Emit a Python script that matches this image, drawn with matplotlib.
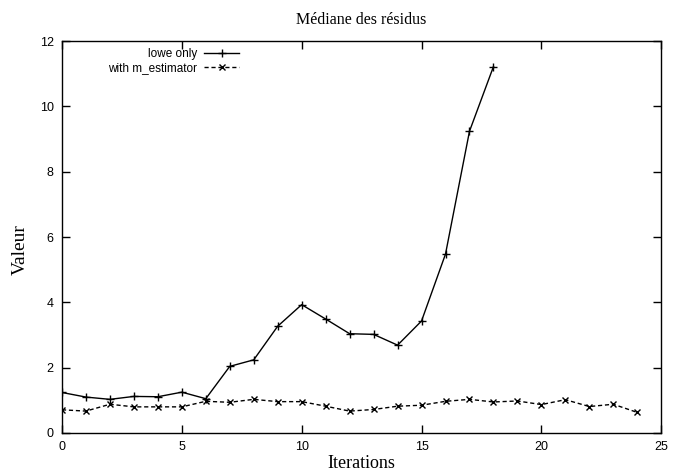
import matplotlib.pyplot as plt

# Données
iter_lowe = list(range(19))
lowe_only = [1.24, 1.10, 1.03, 1.12, 1.11, 1.25, 1.05, 2.04, 2.24, 3.27, 3.93,
             3.49, 3.04, 3.02, 2.69, 3.43, 5.48, 9.24, 11.22]

iter_m = list(range(25))
with_m_estimator = [0.71, 0.67, 0.88, 0.80, 0.80, 0.80, 0.97, 0.94, 1.03, 0.96,
                    0.96, 0.82, 0.67, 0.72, 0.82, 0.85, 0.97, 1.03, 0.95, 0.98,
                    0.87, 1.02, 0.81, 0.88, 0.63]

x_ticks = [0, 5, 10, 15, 20, 25]
y_ticks = [0, 2, 4, 6, 8, 10, 12]

sans = ["Liberation Sans", "DejaVu Sans"]
serif = ["Liberation Serif", "DejaVu Serif"]

fig = plt.figure(figsize=(6.81, 4.73), dpi=100)
ax = fig.add_axes([0.091, 0.0846, 0.880, 0.8284])

ax.plot(iter_lowe, lowe_only, color="black", lw=1.0, marker="+",
        markersize=6, markeredgewidth=1.0, label="lowe only")
ax.plot(iter_m, with_m_estimator, color="black", lw=1.0, ls=(0, (3, 2)),
        marker="x", markersize=4.5, markeredgewidth=1.0, label="with m_estimator")

ax.set_xlim(0, 25)
ax.set_ylim(0, 12)
ax.set_xticks(x_ticks)
ax.set_yticks(y_ticks)
ax.tick_params(direction="in", length=6, width=1, top=True, right=True,
               labelsize=9, pad=6)
for lab in ax.get_xticklabels() + ax.get_yticklabels():
    lab.set_family(sans)
for sp in ax.spines.values():
    sp.set_linewidth(1.0)

ax.set_title("Médiane des résidus", family=serif, fontsize=11.5, pad=12)
ax.set_xlabel("Iterations", family=serif, fontsize=13, labelpad=1)
ax.set_ylabel("Valeur", family=serif, fontsize=14)
ax.yaxis.set_label_coords(-0.055, 0.469)

ax.legend(loc="upper left", bbox_to_anchor=(0.06, 1.009), frameon=False,
          markerfirst=False, prop={"family": sans, "size": 8.5},
          handlelength=3.0, handletextpad=0.6, labelspacing=0.2,
          borderpad=0.35)

fig.savefig("out.png", dpi=100)
